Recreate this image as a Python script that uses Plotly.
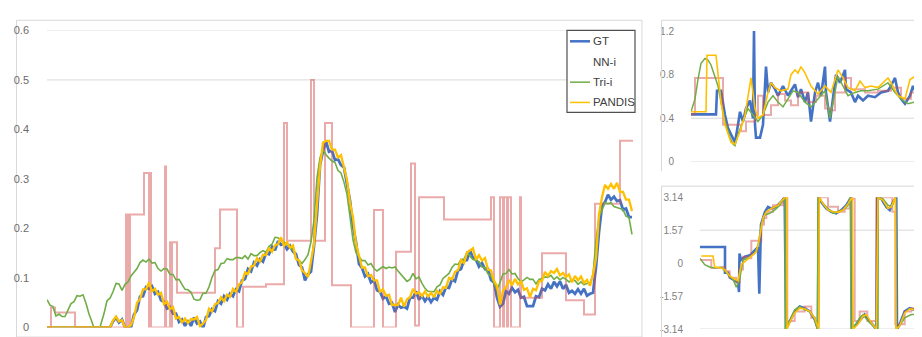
import plotly.graph_objects as go

W, H = 922, 337

# ---------------- main chart (frame index, step 3) ----------------
gt_main = [0, 0, 0, 0, 0, 0, 0, 0, 0, 0, 0, 0, 0, 0, 0, 0, 0, 0, 0, 0, 0,
           0.0, 0.012, 0.02, 0.01, 0.016, 0.0, 0.0, 0.0,
           0.026, 0.035, 0.062, 0.063, 0.081, 0.078, 0.083, 0.068, 0.072, 0.055, 0.052, 0.038,
           0.041, 0.028, 0.028, 0.011, 0.016, 0.003, 0.014, 0.003, 0.02, 0.008, 0.012, -0.002,
           0.021, 0.023, 0.037, 0.033, 0.053, 0.048, 0.063, 0.056, 0.068, 0.063, 0.077, 0.073,
           0.095, 0.098, 0.118, 0.113, 0.131, 0.125, 0.138, 0.133, 0.15, 0.148, 0.163, 0.156,
           0.174, 0.167, 0.17, 0.158, 0.165, 0.153, 0.148, 0.126, 0.121, 0.095, 0.107, 0.113,
           0.165, 0.228, 0.328, 0.356, 0.376, 0.355, 0.357, 0.338, 0.34, 0.328, 0.323, 0.286,
           0.256, 0.205, 0.172, 0.128, 0.12, 0.103, 0.108, 0.091, 0.096, 0.075, 0.072, 0.058,
           0.063, 0.048, 0.05, 0.031, 0.046, 0.04, 0.042, 0.038, 0.06, 0.06, 0.073, 0.056,
           0.064, 0.053, 0.062, 0.051, 0.06, 0.056, 0.073, 0.066, 0.081, 0.08, 0.097, 0.093,
           0.115, 0.118, 0.135, 0.136, 0.156, 0.14, 0.137, 0.123, 0.13, 0.118, 0.118, 0.096,
           0.091, 0.06, 0.042, 0.048, 0.073, 0.068, 0.08, 0.071, 0.076, 0.06, 0.062, 0.043,
           0.043, 0.043, 0.063, 0.061, 0.078, 0.075, 0.087, 0.078, 0.092, 0.083, 0.093, 0.078,
           0.086, 0.07, 0.074, 0.068, 0.077, 0.068, 0.078, 0.064, 0.068, 0.07, 0.122, 0.193,
           0.245, 0.253, 0.268, 0.258, 0.264, 0.255, 0.257, 0.238, 0.24, 0.223, 0.223]

pandis_main = [0, 0, 0, 0, 0, 0, 0, 0, 0, 0, 0, 0, 0, 0, 0, 0, 0, 0, 0, 0, 0,
               0.0, 0.014, 0.022, 0.012, 0.015, 0.0, 0.0, 0.005,
               0.02, 0.05, 0.057, 0.077, 0.077, 0.091, 0.073, 0.078, 0.066, 0.07, 0.047, 0.052,
               0.037, 0.041, 0.018, 0.021, 0.01, 0.018, 0.009, 0.017, 0.016, 0.021, 0.002, 0.008,
               0.015, 0.038, 0.032, 0.047, 0.049, 0.061, 0.053, 0.066, 0.062, 0.078, 0.072, 0.087,
               0.091, 0.111, 0.108, 0.123, 0.125, 0.14, 0.133, 0.147, 0.146, 0.161, 0.153, 0.166,
               0.168, 0.182, 0.165, 0.172, 0.161, 0.166, 0.138, 0.136, 0.115, 0.11, 0.102, 0.134,
               0.168, 0.248, 0.325, 0.373, 0.377, 0.377, 0.359, 0.359, 0.343, 0.348, 0.32, 0.298,
               0.252, 0.222, 0.169, 0.144, 0.121, 0.121, 0.103, 0.106, 0.095, 0.095, 0.072, 0.077,
               0.064, 0.066, 0.045, 0.046, 0.045, 0.06, 0.042, 0.057, 0.061, 0.078, 0.068, 0.071,
               0.063, 0.073, 0.062, 0.07, 0.061, 0.074, 0.068, 0.081, 0.08, 0.1, 0.097, 0.112,
               0.116, 0.136, 0.13, 0.151, 0.155, 0.16, 0.137, 0.146, 0.135, 0.14, 0.117, 0.115,
               0.094, 0.084, 0.046, 0.074, 0.081, 0.096, 0.085, 0.098, 0.087, 0.094, 0.076, 0.079,
               0.061, 0.078, 0.075, 0.093, 0.094, 0.112, 0.104, 0.114, 0.11, 0.118, 0.105, 0.11,
               0.102, 0.107, 0.091, 0.104, 0.095, 0.103, 0.09, 0.096, 0.084, 0.107, 0.139, 0.229,
               0.263, 0.288, 0.28, 0.29, 0.28, 0.292, 0.274, 0.274, 0.258, 0.258, 0.235]

tri_main = [0.056, 0.045, 0.042, 0.023, 0.027, 0.022, 0.022, 0.036,
            0.048, 0.052, 0.064, 0.063, 0.066, 0.049, 0.027, 0.011,
            -0.007, -0.013, 0.007, 0.028, 0.054, 0.059, 0.072, 0.089,
            0.088, 0.075, 0.087, 0.092, 0.104, 0.111, 0.119, 0.131,
            0.136, 0.132, 0.138, 0.13, 0.131, 0.119, 0.114, 0.119,
            0.118, 0.107, 0.107, 0.096, 0.097, 0.087, 0.077, 0.076,
            0.071, 0.057, 0.055, 0.056, 0.069, 0.069, 0.082, 0.101,
            0.115, 0.117, 0.129, 0.13, 0.139, 0.137, 0.137, 0.141,
            0.141, 0.139, 0.145, 0.138, 0.149, 0.145, 0.145, 0.151,
            0.155, 0.152, 0.164, 0.168, 0.182, 0.181, 0.175, 0.171,
            0.169, 0.16, 0.157, 0.138, 0.136, 0.129, 0.137, 0.147,
            0.173, 0.217, 0.302, 0.343, 0.359, 0.349, 0.342, 0.336,
            0.333, 0.317, 0.312, 0.293, 0.269, 0.224, 0.177, 0.151,
            0.143, 0.135, 0.135, 0.126, 0.129, 0.119, 0.114, 0.119,
            0.123, 0.119, 0.122, 0.12, 0.122, 0.114, 0.107, 0.101,
            0.093, 0.097, 0.109, 0.098, 0.102, 0.089, 0.079, 0.073,
            0.073, 0.072, 0.082, 0.086, 0.099, 0.104, 0.109, 0.121,
            0.128, 0.127, 0.137, 0.138, 0.152, 0.144, 0.137, 0.136,
            0.133, 0.122, 0.12, 0.108, 0.104, 0.089, 0.075, 0.091,
            0.108, 0.109, 0.117, 0.108, 0.109, 0.099, 0.092, 0.096,
            0.101, 0.097, 0.097, 0.088, 0.097, 0.099, 0.102, 0.101,
            0.105, 0.097, 0.102, 0.096, 0.101, 0.097, 0.092, 0.096,
            0.095, 0.087, 0.092, 0.086, 0.089, 0.089, 0.107, 0.176,
            0.223, 0.237, 0.252, 0.25, 0.252, 0.244, 0.242, 0.241,
            0.238, 0.225, 0.222, 0.188]

# NN-i is a step series: frame of each change and its value
nn_main_t = [0, 4, 8, 28, 79, 80, 81, 82, 83, 97, 102, 103, 104, 118, 119, 123, 124, 125, 130,
             168, 173, 190, 196, 219, 237, 240, 264, 267, 278, 285, 304, 327, 336, 349, 364,
             368, 372, 397, 398, 444, 447, 453, 456, 457, 460, 461, 464, 473, 474, 495, 519,
             537, 548, 573, 586]
nn_main_v = [0.0, 0.04, 0.03, 0.0, 0.228, 0.0, 0.228, 0.0, 0.228, 0.312, 0.0, 0.312, 0.0,
             0.325, 0.0, 0.172, 0.0, 0.172, 0.07, 0.16, 0.238, 0.0, 0.082, 0.087, 0.413,
             0.175, 0.5, 0.175, 0.413, 0.085, 0.0, 0.237, 0.0, 0.153, 0.331, 0.004, 0.263,
             0.218, 0.218, 0.263, 0.0, 0.263, 0.0, 0.263, 0.0, 0.263, 0.0, 0.263, 0.06, 0.15,
             0.055, 0.026, 0.25, 0.377, 0.377]

# ---------------- top-right chart ----------------
gt_tr_t = [0, 25, 26, 30, 34, 37, 40, 44, 47, 49, 52, 55, 59, 62, 63, 64, 65, 69, 72, 75, 77,
           80, 84, 87, 92, 97, 100, 104, 107, 110, 114, 117, 120, 124, 127, 130, 134, 135,
           139, 142, 145, 149, 154, 155, 160, 164, 167, 172, 177, 184, 190, 197, 200, 204,
           207, 210, 214, 219, 222, 225, 229, 232, 234, 237]
gt_tr_v = [0.436, 0.436, 0.652, 0.652, 0.43, 0.311, 0.252, 0.178, 0.341, 0.459, 0.37, 0.489,
           0.563, 0.4, 1.215, 0.341, 0.222, 0.222, 0.341, 0.874, 0.637, 0.726, 0.667, 0.607,
           0.696, 0.607, 0.652, 0.711, 0.593, 0.667, 0.548, 0.637, 0.37, 0.637, 0.726, 0.607,
           0.874, 0.637, 0.37, 0.607, 0.8, 0.726, 0.844, 0.667, 0.637, 0.548, 0.607, 0.563,
           0.607, 0.593, 0.637, 0.652, 0.696, 0.77, 0.637, 0.578, 0.533, 0.607, 0.696, 0.637,
           0.459, 0.43, 0.4, 0.489]

pandis_tr_t = [0, 15, 16, 25, 29, 30, 34, 37, 40, 44, 49, 54, 59, 60, 64, 67, 72, 77, 80, 84,
               90, 97, 100, 104, 107, 110, 114, 120, 127, 134, 140, 144, 147, 152, 157, 164,
               169, 174, 180, 187, 194, 197, 200, 207, 214, 219, 224, 229, 234, 237]
pandis_tr_v = [0.459, 0.459, 0.978, 0.978, 0.637, 0.548, 0.341, 0.252, 0.178, 0.163, 0.281,
               0.43, 0.726, 0.77, 0.489, 0.4, 0.43, 0.637, 0.726, 0.681, 0.652, 0.667, 0.8,
               0.844, 0.815, 0.874, 0.815, 0.696, 0.622, 0.696, 0.637, 0.756, 0.844, 0.77,
               0.681, 0.652, 0.741, 0.681, 0.696, 0.681, 0.741, 0.77, 0.726, 0.607, 0.578,
               0.756, 0.785, 0.726, 0.607, 0.681]

tri_tr_t = [0, 4, 7, 10, 14, 17, 20, 24, 27, 30, 34, 39, 42, 44, 47, 52, 57, 62, 67, 72, 77,
            82, 87, 92, 97, 102, 107, 114, 120, 127, 134, 139, 142, 147, 152, 157, 164, 170,
            177, 187, 197, 204, 210, 217, 224, 230, 237]
tri_tr_v = [0.459, 0.578, 0.756, 0.904, 0.948, 0.933, 0.889, 0.785, 0.696, 0.548, 0.37,
            0.222, 0.163, 0.148, 0.252, 0.37, 0.489, 0.43, 0.37, 0.43, 0.548, 0.607, 0.548,
            0.504, 0.578, 0.652, 0.637, 0.548, 0.504, 0.578, 0.652, 0.4, 0.548, 0.785, 0.696,
            0.607, 0.637, 0.652, 0.652, 0.667, 0.726, 0.637, 0.578, 0.533, 0.548, 0.519, 0.578]

nn_tr_t = [0, 4, 32, 50, 55, 64, 67, 72, 80, 87, 94, 100, 107, 117, 125, 134, 140, 144, 154,
           160, 174, 187, 200, 210, 220, 230, 239]
nn_tr_v = [0.436, 0.77, 0.341, 0.281, 0.37, 0.43, 0.607, 0.43, 0.519, 0.622, 0.563, 0.519,
           0.637, 0.548, 0.607, 0.489, 0.474, 0.637, 0.77, 0.667, 0.637, 0.652, 0.681, 0.578,
           0.637, 0.578, 0.548]

# ---------------- bottom-right chart (angle, -pi..pi) ----------------
gt_br_t = [0, 25, 25, 28, 30, 33, 38, 39, 39.5, 41, 45, 50, 55, 58, 59.3, 60, 61, 65, 68, 71,
           76, 81, 84.7, 86, 89.7, 94.7, 99.7, 104.7, 109.7, 114.7, 118, 118.7, 121.3, 126.3,
           131.3, 136.3, 141.3, 146.3, 151.3, 152, 156.3, 161.3, 164.7, 169.7, 174.7, 176.3,
           177.3, 181.3, 186.3, 189.7, 193, 196.3, 197, 199.7, 204.7, 209.7, 214.7, 221.3,
           226.3, 227.3, 228]
gt_br_v = [0.766, 0.766, -0.46, -0.46, -0.69, -0.766, -0.919, -1.379, 0.46, 0.153, 0.306,
           0.383, 0.613, 0.766, -1.455, 0.766, 1.838, 2.451, 2.681, 2.604, 2.681, 2.911, 3.14,
           -3.14, -2.757, -2.298, -2.068, -2.145, -2.298, -2.681, -3.14, 3.14, 2.911, 2.604,
           2.451, 2.374, 2.528, 2.757, 3.14, -3.14, -2.911, -2.604, -2.451, -2.757, -3.064,
           -3.14, 3.14, 3.064, 2.681, 2.528, 2.911, 3.14, -3.14, -2.911, -2.298, -2.145,
           -2.221, -2.604, -3.064, -3.14, 3.14]

pandis_br_t = [1.3, 13, 14.7, 21.3, 24.7, 29.7, 34.7, 38, 41.3, 46.3, 51.3, 56.3, 59.7, 63,
               66.3, 71.3, 78, 84, 86.7, 87, 89.7, 94.7, 99.7, 104.7, 109.7, 114.7, 118.7,
               119.3, 123, 128, 133, 138, 143, 148, 152.3, 153, 158, 163, 166.3, 171.3, 176.3,
               178, 183, 188, 191.3, 195.3, 196, 199.7, 204.7, 209.7, 214.7, 221.3, 226.3, 228]
pandis_br_v = [0.337, 0.337, -0.184, -0.23, -0.306, -0.613, -0.766, -0.843, -0.077, 0.153,
               0.337, 0.536, 1.226, 2.145, 2.451, 2.604, 2.757, 3.094, 3.14, -3.14, -2.834,
               -2.374, -2.145, -2.175, -2.298, -2.604, -3.14, 3.14, 2.834, 2.528, 2.451, 2.42,
               2.528, 2.834, 3.14, -3.14, -2.911, -2.528, -2.451, -2.834, -3.14, 3.14, 2.987,
               2.604, 2.681, 3.14, -3.14, -2.987, -2.374, -2.175, -2.221, -2.528, -2.987, -3.14]

tri_br_t = [0, 4.7, 9.7, 14.7, 21.3, 24.7, 28, 33, 36.3, 39.7, 43, 48, 54.7, 58, 61.3, 64.7,
            69.7, 74.7, 79.7, 84, 85, 85.3, 89.7, 94.7, 99.7, 104.7, 109.7, 114.7, 117.3, 118,
            123, 128, 133, 138, 143, 148, 150.3, 151, 154.7, 159.7, 163, 168, 173, 178, 178.3,
            183, 188, 191.3, 195.7, 196.3, 199.7, 204.7, 211.3, 218, 223, 226.3, 227.3, 227.7]
tri_br_v = [0.23, -0.077, -0.184, -0.23, -0.184, -0.383, -0.536, -0.766, -1.149, -0.766,
            0.153, 0.23, 0.46, 0.843, 1.838, 2.298, 2.374, 2.528, 2.757, 3.064, 3.14, -3.14,
            -2.757, -2.221, -2.068, -2.221, -2.298, -2.681, -3.14, 3.14, 2.834, 2.604, 2.374,
            2.451, 2.528, 2.757, 3.14, -3.14, -2.987, -2.604, -2.451, -2.757, -2.987, -3.14,
            3.14, 3.064, 2.757, 2.681, 3.14, -3.14, -2.987, -2.604, -2.451, -2.451, -2.681,
            -2.911, -3.14, 3.14]

nn_br_t = [0, 11.3, 23, 24.7, 29.7, 36.3, 39.7, 43, 48, 51.3, 61.3, 64, 66.3, 73, 83, 86.3,
           87.3, 94.7, 104.7, 111.3, 115.3, 118.3, 128, 138, 144.7, 149.7, 154.7, 159.7,
           167.3, 176.3, 192.3, 195.3, 204.7, 211.3, 218, 224.7, 227.3, 230]
nn_br_v = [0.153, -0.23, -0.184, -0.383, -0.69, -0.919, -0.306, 0.306, 0.23, 1.072, 1.838,
           2.145, 2.451, 2.757, 3.064, 3.14, -2.757, -2.298, -2.068, -2.604, -2.757, 3.14,
           2.681, 2.451, 2.604, 3.064, -2.757, -2.298, -2.757, 3.14, 2.451, -2.91, -2.298,
           -2.145, -2.298, -2.757, 3.14, 3.14]

main_ticks = [0, 0.1, 0.2, 0.3, 0.4, 0.5, 0.6]
main_ticktext = ["0", "0.1", "0.2", "0.3", "0.4", "0.5", "0.6"]
tr_ticks = [0, 0.4, 0.8, 1.2]
tr_ticktext = ["0", "0.4", "0.8", "1.2"]
br_ticks = [-3.14, -1.57, 0, 1.57, 3.14]
br_ticktext = ["-3.14", "-1.57", "0", "1.57", "3.14"]

legend_names = ["GT", "NN-i", "Tri-i", "PANDIS"]

BLUE = "#4472C4"
GREEN = "#70AD47"
YELLOW = "#FFC000"
PINK = "rgba(214,78,78,0.48)"

def px_x(p):
    return p / W

def px_y(p):
    return (H - p) / H

fig = go.Figure()

def add_set(xref, yref, gt_t, gt_v, nn_t, nn_v, tri_t, tri_v, pa_t, pa_v, gw, gr, yw):
    fig.add_trace(go.Scatter(x=gt_t, y=gt_v, mode="lines", line=dict(color=BLUE, width=gw),
                             xaxis=xref, yaxis=yref, showlegend=False, hoverinfo="skip"))
    fig.add_trace(go.Scatter(x=nn_t, y=nn_v, mode="lines", line=dict(color=PINK, width=2, shape="hv"),
                             xaxis=xref, yaxis=yref, showlegend=False, hoverinfo="skip"))
    fig.add_trace(go.Scatter(x=tri_t, y=tri_v, mode="lines", line=dict(color=GREEN, width=gr),
                             xaxis=xref, yaxis=yref, showlegend=False, hoverinfo="skip"))
    fig.add_trace(go.Scatter(x=pa_t, y=pa_v, mode="lines", line=dict(color=YELLOW, width=yw),
                             xaxis=xref, yaxis=yref, showlegend=False, hoverinfo="skip"))

gt_main_t = [3 * i for i in range(len(gt_main))]
pandis_main_t = [3 * i for i in range(len(pandis_main))]
tri_main_t = [3 * i for i in range(len(tri_main))]

add_set("x", "y", gt_main_t, gt_main, nn_main_t, nn_main_v, tri_main_t, tri_main,
        pandis_main_t, pandis_main, 2.8, 1.6, 2.3)
add_set("x2", "y2", gt_tr_t, gt_tr_v, nn_tr_t, nn_tr_v, tri_tr_t, tri_tr_v,
        pandis_tr_t, pandis_tr_v, 2.6, 1.5, 1.6)
add_set("x3", "y3", gt_br_t, gt_br_v, nn_br_t, nn_br_v, tri_br_t, tri_br_v,
        pandis_br_t, pandis_br_v, 2.6, 1.5, 1.6)

tickfont = dict(family="Liberation Sans, Arial, sans-serif", size=11, color="#6b6b6b")
smallfont = dict(family="Liberation Sans, Arial, sans-serif", size=10, color="#7f7f7f")

hidden_x = dict(showgrid=False, zeroline=False, showticklabels=False, showline=False, ticks="")

fig.update_layout(
    width=W, height=H, margin=dict(l=0, r=0, t=0, b=0),
    paper_bgcolor="white", plot_bgcolor="rgba(0,0,0,0)",
    showlegend=False,
    xaxis=dict(domain=[px_x(39), px_x(625)], range=[0, 586], anchor="y", **hidden_x),
    yaxis=dict(domain=[px_y(325), px_y(17)], range=[0, 0.6], anchor="x",
               tickvals=main_ticks, ticktext=main_ticktext, showgrid=False, zeroline=False,
               showline=False, ticks="", tickfont=tickfont, ticklabelstandoff=17),
    xaxis2=dict(domain=[px_x(683), 1], range=[0, 239], anchor="y2", **hidden_x),
    yaxis2=dict(domain=[px_y(153.3), px_y(17.7)], range=[0, 1.2], anchor="x2",
                tickvals=tr_ticks, ticktext=tr_ticktext, showgrid=False, zeroline=False,
                showline=False, ticks="", tickfont=smallfont, ticklabelstandoff=16),
    xaxis3=dict(domain=[px_x(692), 1], range=[0, 230], anchor="y3", **hidden_x),
    yaxis3=dict(domain=[px_y(326.7), px_y(190)], range=[-3.14, 3.14], anchor="x3",
                tickvals=br_ticks, ticktext=br_ticktext, showgrid=False, zeroline=False,
                showline=False, ticks="", tickfont=smallfont, ticklabelstandoff=16),
)

GRID = "#d9d9d9"
shapes = []
# gridlines visible in the reference
for yv in [0.5, 0.6]:
    shapes.append(dict(type="line", xref="x domain", yref="y", x0=0, x1=1, y0=yv, y1=yv,
                       line=dict(color=GRID, width=1), layer="below"))
for yv in [0, 0.4]:
    shapes.append(dict(type="line", xref="x2 domain", yref="y2", x0=0, x1=1, y0=yv, y1=yv,
                       line=dict(color=GRID, width=1), layer="below"))
for yv in [1.57, -3.14]:
    shapes.append(dict(type="line", xref="x3 domain", yref="y3", x0=0, x1=1, y0=yv, y1=yv,
                       line=dict(color=GRID, width=1), layer="below"))

# chart-area borders
shapes.append(dict(type="rect", xref="paper", yref="paper", x0=px_x(8.5), x1=px_x(634),
                   y0=px_y(335), y1=px_y(6.5), line=dict(color=GRID, width=1), layer="below"))
for (top, bottom) in [(6.5, 163), (178.5, 340)]:
    shapes.append(dict(type="line", xref="paper", yref="paper", x0=px_x(653.5), x1=px_x(653.5),
                       y0=px_y(bottom), y1=px_y(top), line=dict(color=GRID, width=1)))
    shapes.append(dict(type="line", xref="paper", yref="paper", x0=px_x(653.5), x1=px_x(925),
                       y0=px_y(top), y1=px_y(top), line=dict(color=GRID, width=1)))

# legend box
shapes.append(dict(type="rect", xref="paper", yref="paper", x0=px_x(559), x1=px_x(627),
                   y0=px_y(102), y1=px_y(17), line=dict(color="#505050", width=1.2),
                   fillcolor="white", layer="above"))
legend_rows = [28.3, 49.3, 70.7, 91.7]
legend_cols = [BLUE, None, GREEN, YELLOW]
legend_w = [2.5, 0, 1.5, 1.5]
annotations = []
for name, yy, col, lw in zip(legend_names, legend_rows, legend_cols, legend_w):
    if col is not None:
        shapes.append(dict(type="line", xref="paper", yref="paper", x0=px_x(562), x1=px_x(582),
                           y0=px_y(yy), y1=px_y(yy), line=dict(color=col, width=lw), layer="above"))
    annotations.append(dict(xref="paper", yref="paper", x=px_x(582.5), y=px_y(yy), text=name,
                            showarrow=False, xanchor="left", yanchor="middle",
                            font=dict(family="Liberation Sans, Arial, sans-serif", size=11.5,
                                      color="#404040")))

fig.update_layout(shapes=shapes, annotations=annotations)

fig.write_html("out.html")
